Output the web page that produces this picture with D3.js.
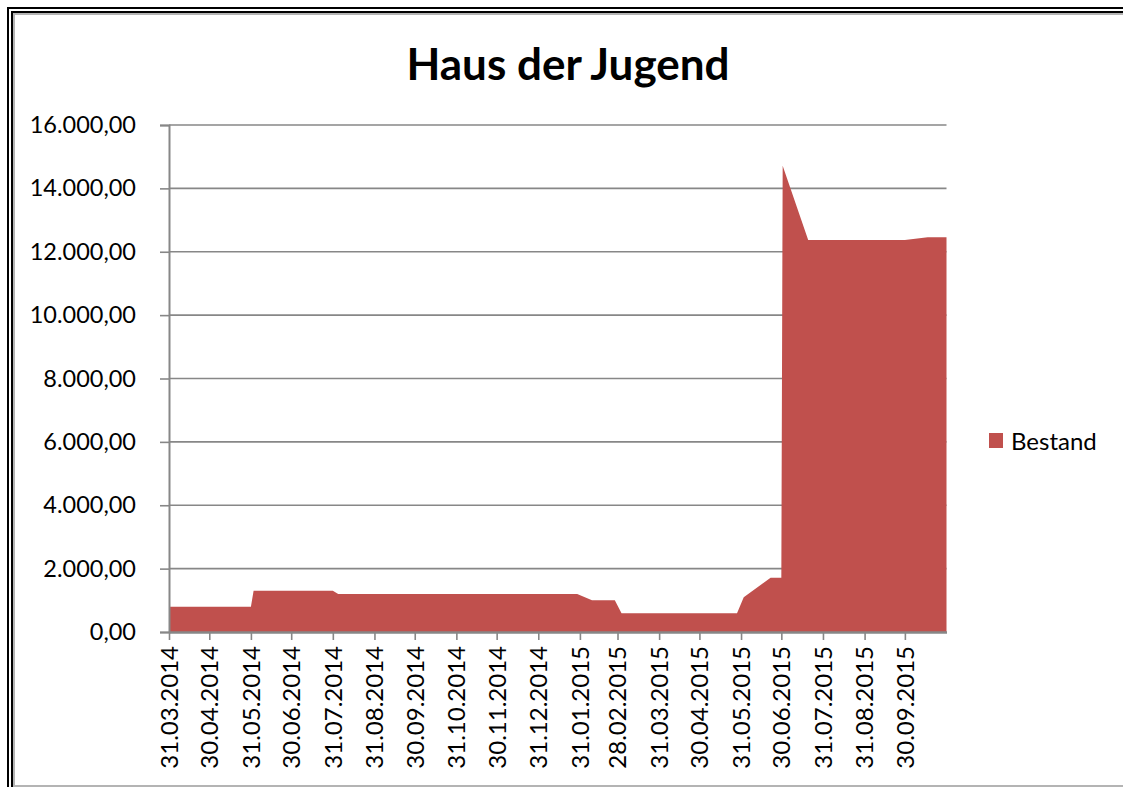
<!DOCTYPE html>
<html><head><meta charset="utf-8">
<script src="https://cdn.jsdelivr.net/npm/d3@7"></script>
<style>
html,body{margin:0;padding:0;background:#fff;}
svg{display:block;}
text{font-family:Lato,"Noto Sans",sans-serif;fill:#000;}
</style></head>
<body>
<svg id="chart" width="1123" height="787"></svg>
<script>
const title = "Haus der Jugend";
const seriesName = "Bestand";
const dates = ["31.03.2014","31.05.2014","02.06.2014","31.07.2014","04.08.2014","29.01.2015","09.02.2015","26.02.2015","03.03.2015","28.05.2015","02.06.2015","22.06.2015","30.06.2015","01.07.2015","20.07.2015","30.09.2015","17.10.2015","31.10.2015"];
const values = [800,800,1300,1300,1200,1200,1000,1000,590,590,1095,1714,1714,14717,12370,12370,12457,12457];
const xTickLabels = ["31.03.2014","30.04.2014","31.05.2014","30.06.2014","31.07.2014","31.08.2014","30.09.2014","31.10.2014","30.11.2014","31.12.2014","31.01.2015","28.02.2015","31.03.2015","30.04.2015","31.05.2015","30.06.2015","31.07.2015","31.08.2015","30.09.2015"];
const yTicks = [0,2000,4000,6000,8000,10000,12000,14000,16000];
const xDomain = ["31.03.2014","31.10.2015"];

const parse = d3.timeParse("%d.%m.%Y");
const fmtDate = d3.timeFormat("%d.%m.%Y");
const loc = d3.formatLocale({decimal:",",thousands:".",grouping:[3],currency:["","€"]});
const fmtY = loc.format(",.2f");

const svg = d3.select("#chart");
const L = 169, R = 946.5, T = 125, B = 632;
const x = d3.scaleTime().domain(xDomain.map(parse)).range([L, R]);
const y = d3.scaleLinear().domain([0,16000]).range([B, T]);
const data = dates.map((d,i)=>({d:parse(d), v:values[i]}));
const grey = "#878787";

// frame
const frame = svg.append("g");
frame.append("path").attr("d","M8,787V8H1123").attr("fill","none").attr("stroke","#000").attr("stroke-width",2);
frame.append("path").attr("d","M12,787V12H1123").attr("fill","none").attr("stroke","#000").attr("stroke-width",2);
frame.append("path").attr("d","M14,787V14H1123").attr("fill","none").attr("stroke","#b4b4b4").attr("stroke-width",2);
frame.append("line").attr("x1",13).attr("x2",1123).attr("y1",786).attr("y2",786).attr("stroke","#b4b4b4").attr("stroke-width",2);

// gridlines
svg.append("g").selectAll("line").data(yTicks.filter(t=>t>0)).join("line")
  .attr("x1",L).attr("x2",R).attr("y1",d=>y(d)).attr("y2",d=>y(d))
  .attr("stroke",grey).attr("stroke-width",1.6);

// area
svg.append("path").datum(data)
  .attr("d", d3.area().x(d=>x(d.d)).y0(y(0)).y1(d=>y(d.v)))
  .attr("fill","#C0504D");

// y axis
const yAxis = svg.append("g").attr("transform",`translate(${L},0)`)
  .call(d3.axisLeft(y).tickValues(yTicks).tickFormat(fmtY).tickSize(9).tickPadding(24));
yAxis.select(".domain").attr("stroke",grey).attr("stroke-width",2);
yAxis.selectAll(".tick line").attr("stroke",grey).attr("stroke-width",1.6);
yAxis.selectAll("text").attr("font-size",23.5).attr("font-family","Lato").attr("fill","#000");

// x axis
const xAxis = svg.append("g").attr("transform",`translate(0,${B})`)
  .call(d3.axisBottom(x).tickValues(xTickLabels.map(parse)).tickFormat(fmtDate).tickSize(8).tickSizeOuter(0));
xAxis.select(".domain").attr("stroke",grey).attr("stroke-width",2.5);
xAxis.selectAll(".tick line").attr("stroke",grey).attr("stroke-width",1.6);
xAxis.selectAll("text").attr("font-size",24).attr("font-family","Lato").attr("fill","#000")
  .attr("transform","rotate(-90)").attr("text-anchor","end").attr("dy","0.35em").attr("x",-14).attr("y",0);

// title
svg.append("text").attr("x",568).attr("y",80).attr("text-anchor","middle")
  .attr("font-size",44).attr("font-weight","bold").text(title);

// legend
svg.append("rect").attr("x",989).attr("y",433).attr("width",14).attr("height",15).attr("fill","#C0504D");
svg.append("text").attr("x",1011).attr("y",450).attr("font-size",24).text(seriesName);
</script>
</body></html>
